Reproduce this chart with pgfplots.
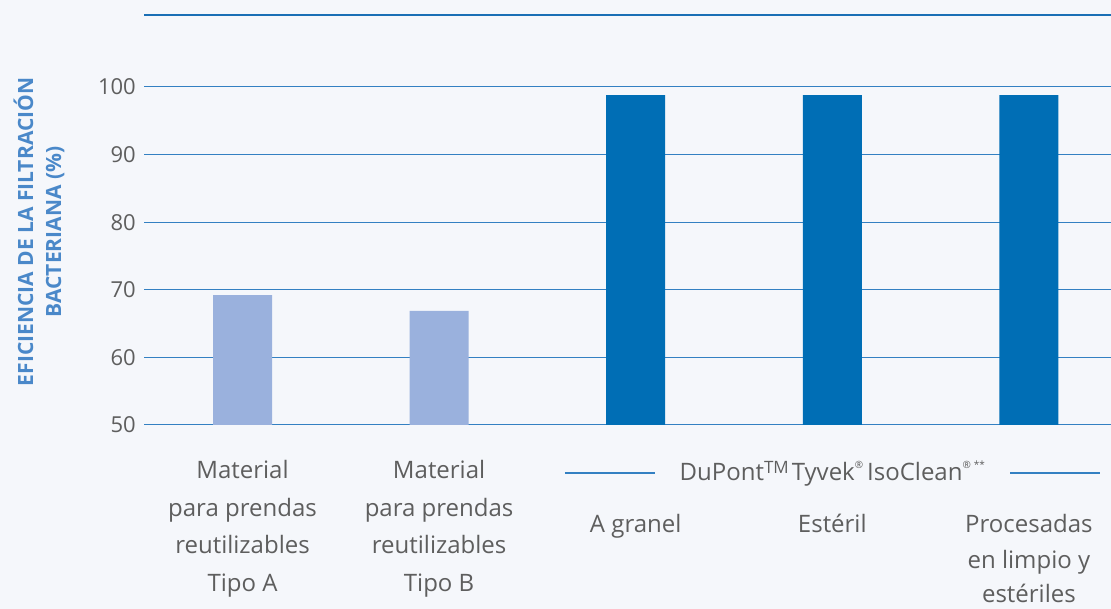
\documentclass[border=0pt]{standalone}
\usepackage{fontspec}
\setmainfont{Open Sans}
\usepackage{pgfplots}
\pgfplotsset{compat=1.18}
\definecolor{bg}{HTML}{F5F7FB}
\definecolor{gridc}{HTML}{3380C2}
\definecolor{topl}{HTML}{1A6FB5}
\definecolor{lightbar}{HTML}{9AB1DD}
\definecolor{darkbar}{HTML}{006EB5}
\definecolor{txt}{HTML}{5E5E5E}
\definecolor{ylab}{HTML}{4A88C9}
\tikzset{lbl/.style={font=\fontsize{24}{30}\selectfont, text=txt, anchor=base, inner sep=0pt}}
\begin{document}
\begin{tikzpicture}
\fill[bg] (-144.5pt,-184pt) rectangle (966.5pt,425pt);
\begin{axis}[
  at={(0pt,0pt)}, anchor=south west,
  scale only axis, width=966.5pt, height=410pt,
  xmin=-0.4985, xmax=4.4176, ymin=50, ymax=110.65,
  axis line style={draw=none}, major tick length=0pt,
  xtick=\empty,
  ytick={50,60,70,80,90,100},
  /pgf/number format/assume math mode=true,
  ymajorgrids, grid style={gridc, line width=1pt},
  yticklabel style={font=\fontsize{22}{26}\selectfont, text=txt, inner sep=0pt, xshift=-8.5pt},
  clip mode=individual,
  ybar, bar width=59pt,
]
\addplot[fill=lightbar, draw=none, bar shift=0pt] coordinates {(0,69.2) (1,66.9)};
\addplot[fill=darkbar, draw=none, bar shift=0pt] coordinates {(2,98.8) (3,98.8) (4,98.8)};
\draw[topl, line width=2pt] (rel axis cs:0,1) -- (rel axis cs:1,1);
% category labels
\node[lbl, yshift=-54pt] at (axis cs:0,50) {Material};
\node[lbl, yshift=-91.5pt] at (axis cs:0,50) {para prendas};
\node[lbl, yshift=-129pt] at (axis cs:0,50) {reutilizables};
\node[lbl, yshift=-166.5pt] at (axis cs:0,50) {Tipo A};
\node[lbl, yshift=-54pt] at (axis cs:1,50) {Material};
\node[lbl, yshift=-91.5pt] at (axis cs:1,50) {para prendas};
\node[lbl, yshift=-129pt] at (axis cs:1,50) {reutilizables};
\node[lbl, yshift=-166.5pt] at (axis cs:1,50) {Tipo B};
\node[lbl, yshift=-108pt] at (axis cs:2,50) {A granel};
\node[lbl, yshift=-108pt] at (axis cs:3,50) {Estéril};
\node[lbl, yshift=-108pt] at (axis cs:4,50) {Procesadas};
\node[lbl, yshift=-144pt] at (axis cs:4,50) {en limpio y};
\node[lbl, yshift=-178pt] at (axis cs:4,50) {estériles};
% group label
\node[lbl, yshift=-56pt] at (axis cs:3,50) {DuPont\raisebox{0.6ex}{\fontsize{17}{17}\selectfont TM}\hspace{3pt}Tyvek\raisebox{0.95ex}{\fontsize{10}{10}\selectfont ®}\hspace{4pt}IsoClean\raisebox{0.95ex}{\fontsize{10}{10}\selectfont ®\hspace{3pt}**}};
\draw[gridc, line width=1.2pt] ([yshift=-48pt]axis cs:1.640,50) -- ([yshift=-48pt]axis cs:2.098,50);
\draw[gridc, line width=1.2pt] ([yshift=-48pt]axis cs:3.904,50) -- ([yshift=-48pt]axis cs:4.362,50);
\end{axis}
\node[rotate=90, align=center, font=\bfseries\fontsize{21}{28}\selectfont, text=ylab] at (-105.5pt,193pt) {EFICIENCIA DE LA FILTRACIÓN\\BACTERIANA (\%)};
\pgfresetboundingbox
\path (-144.5pt,-184pt) rectangle (966.5pt,425pt);
\end{tikzpicture}
\end{document}
